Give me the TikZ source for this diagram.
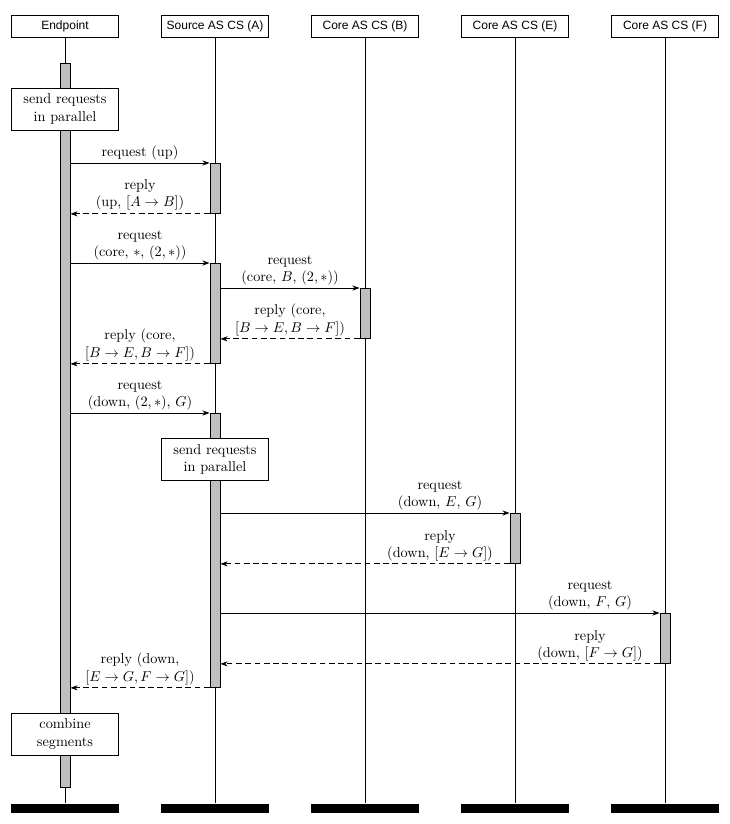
\documentclass[tikz,border=0pt]{standalone}
\usepackage{fontspec}
\newfontfamily\headfont{Liberation Sans}
\usetikzlibrary{arrows.meta, positioning, calc}

\begin{document}
\begin{tikzpicture}[
    x=0.7pt, y=-0.7pt,
    >={Stealth[length=5pt, width=3.6pt, inset=1.6pt]},
    thread/.style={
        draw,
        fill=white,
        line width=0.6pt,
        minimum width=75pt,
        minimum height=16pt,
        inner sep=0pt,
        font=\headfont\fontsize{8.4}{10}\selectfont
    },
    threadend/.style={
        fill=black,
        minimum width=75.6pt,
        minimum height=6.3pt,
        inner sep=0pt
    },
    lifeline/.style={
        line width=0.6pt
    },
    act/.style={
        draw,
        fill=gray!50,
        line width=0.6pt,
        minimum width=7pt,
        inner sep=0pt,
        anchor=north
    },
    callbox/.style={
        draw,
        fill=white,
        line width=0.6pt,
        minimum width=75pt,
        minimum height=29.4pt,
        inner sep=1pt,
        align=center
    },
    req/.style={
        ->,
        line width=0.6pt
    },
    rep/.style={
        ->,
        line width=0.6pt,
        dash pattern=on 4pt off 2.5pt
    },
    lbl/.style={
        above,
        align=center,
        inner sep=2pt
    }
]
\useasboundingbox (0,0) rectangle (729,824);

% Threads
\node[thread] (ep) at (65,26.5) {Endpoint};
\node[thread] (src) at (215,26.5) {Source AS CS (A)};
\node[thread] (cb) at (365,26.5) {Core AS CS (B)};
\node[thread] (ce) at (515,26.5) {Core AS CS (E)};
\node[thread] (cf) at (665,26.5) {Core AS CS (F)};

% Thread ends and lifelines
\foreach \t/\x in {ep/65, src/215, cb/365, ce/515, cf/665} {
    \node[threadend] (\t end) at (\x,808) {};
    \draw[lifeline] (\t.south) -- (\t end.north);
}

% Activations
\node[act, minimum height=506.8pt] (epact) at (65,63) {};
\node[act, minimum height=35pt] (srcact1) at (215,163) {};
\node[act, minimum height=70pt] (srcact2) at (215,263) {};
\node[act, minimum height=191.8pt] (srcact3) at (215,413) {};
\node[act, minimum height=35pt] (cbact) at (365,288) {};
\node[act, minimum height=35pt] (ceact) at (515,513) {};
\node[act, minimum height=35pt] (cfact) at (665,613) {};

% Call boxes
\node[callbox] (par1) at (65,109) {send requests\\in parallel};
\node[callbox] (par2) at (215,459) {send requests\\in parallel};
\node[callbox] (comb) at (65,734) {combine\\segments};

% Up segment
\draw[req] (epact.east |- srcact1.north) -- node[lbl] {request (up)} (srcact1.north west);
\draw[rep] (srcact1.south west) -- node[lbl] {reply\\(up, $[A \to B]$)} (epact.east |- srcact1.south);

% Core segment
\draw[req] (epact.east |- srcact2.north) -- node[lbl] {request\\(core, $*$, $(2,*)$)} (srcact2.north west);
\draw[req] (srcact2.east |- cbact.north) -- node[lbl] {request\\(core, $B$, $(2,*)$)} (cbact.north west);
\draw[rep] (cbact.south west) -- node[lbl] {reply (core,\\$[B \to E, B \to F]$)} (srcact2.east |- cbact.south);
\draw[rep] (srcact2.south west) -- node[lbl] {reply (core,\\$[B \to E, B \to F]$)} (epact.east |- srcact2.south);

% Down segments
\draw[req] (epact.east |- srcact3.north) -- node[lbl] {request\\(down, $(2,*)$, $G$)} (srcact3.north west);

\coordinate (midBE) at ($(cb)!.5!(ce)$);
\coordinate (midEF) at ($(ce)!.5!(cf)$);

\draw[req] (srcact3.east |- ceact.north) -- (ceact.north west);
\node[lbl] at (midBE |- ceact.north) {request\\(down, $E$, $G$)};
\draw[rep] (ceact.south west) -- (srcact3.east |- ceact.south);
\node[lbl] at (midBE |- ceact.south) {reply\\(down, $[E \to G]$)};

\draw[req] (srcact3.east |- cfact.north) -- (cfact.north west);
\node[lbl] at (midEF |- cfact.north) {request\\(down, $F$, $G$)};
\draw[rep] (cfact.south west) -- (srcact3.east |- cfact.south);
\node[lbl] at (midEF |- cfact.south) {reply\\(down, $[F \to G]$)};

\draw[rep] (srcact3.south west) -- node[lbl] {reply (down,\\$[E \to G, F \to G]$)} (epact.east |- srcact3.south);

\end{tikzpicture}
\end{document}
